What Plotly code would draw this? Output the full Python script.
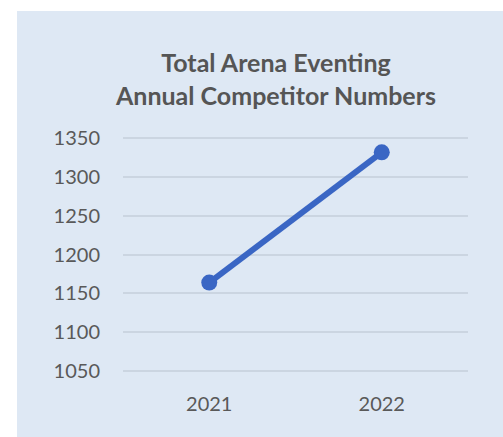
import plotly.graph_objects as go

years = ["2021", "2022"]
competitors = [1164, 1331]
y_ticks = [1050, 1100, 1150, 1200, 1250, 1300, 1350]

W, H = 503, 437
L, R, T, B = 123, 35, 136, 64
pw, ph = W - L - R, H - T - B

fig = go.Figure()
fig.add_trace(go.Scatter(
    x=years, y=competitors, mode="lines+markers",
    line=dict(color="#3A66C4", width=6),
    marker=dict(color="#3A66C4", size=16),
    showlegend=False, cliponaxis=False,
))

panel = "#DEE8F4"
# white outer strips (top and left), panel colour fills the rest
fig.add_shape(type="rect", xref="paper", yref="paper", layer="below",
              x0=(-5 - L) / pw, x1=(W + 5 - L) / pw,
              y0=(H - B - 11) / ph, y1=(H - B + 5) / ph,
              fillcolor="white", line=dict(width=0))
fig.add_shape(type="rect", xref="paper", yref="paper", layer="below",
              x0=(-5 - L) / pw, x1=(17 - L) / pw,
              y0=(H - B - H - 5) / ph, y1=(H - B + 5) / ph,
              fillcolor="white", line=dict(width=0))

fig.update_layout(
    width=W, height=H,
    margin=dict(l=L, r=R, t=T, b=B),
    paper_bgcolor=panel, plot_bgcolor="rgba(0,0,0,0)",
    title=dict(text="Total Arena Eventing<br>Annual Competitor Numbers",
               font=dict(family="Lato", size=25, color="#555555", weight="bold"),
               x=276 / W, xanchor="center", xref="container",
               y=1 - 72 / H, yanchor="middle", yref="container"),
    font=dict(family="Lato", size=20, color="#595959"),
)
fig.update_xaxes(type="category", range=[-0.5, 1.5], showgrid=False, zeroline=False,
                 showline=False, ticks="outside", ticklen=13, tickcolor="rgba(0,0,0,0)")
fig.update_yaxes(range=[1048, 1352], tickvals=y_ticks, showgrid=True, gridcolor="#CBD5E1",
                 gridwidth=1.5, zeroline=False, showline=False,
                 ticks="outside", ticklen=18, tickcolor="rgba(0,0,0,0)")

fig.write_html("out.html", config={"displayModeBar": False},
               post_script=("document.body.style.margin='0';"
                            "document.body.style.background='%s';"
                            "document.documentElement.style.background='%s';" % (panel, panel)))
